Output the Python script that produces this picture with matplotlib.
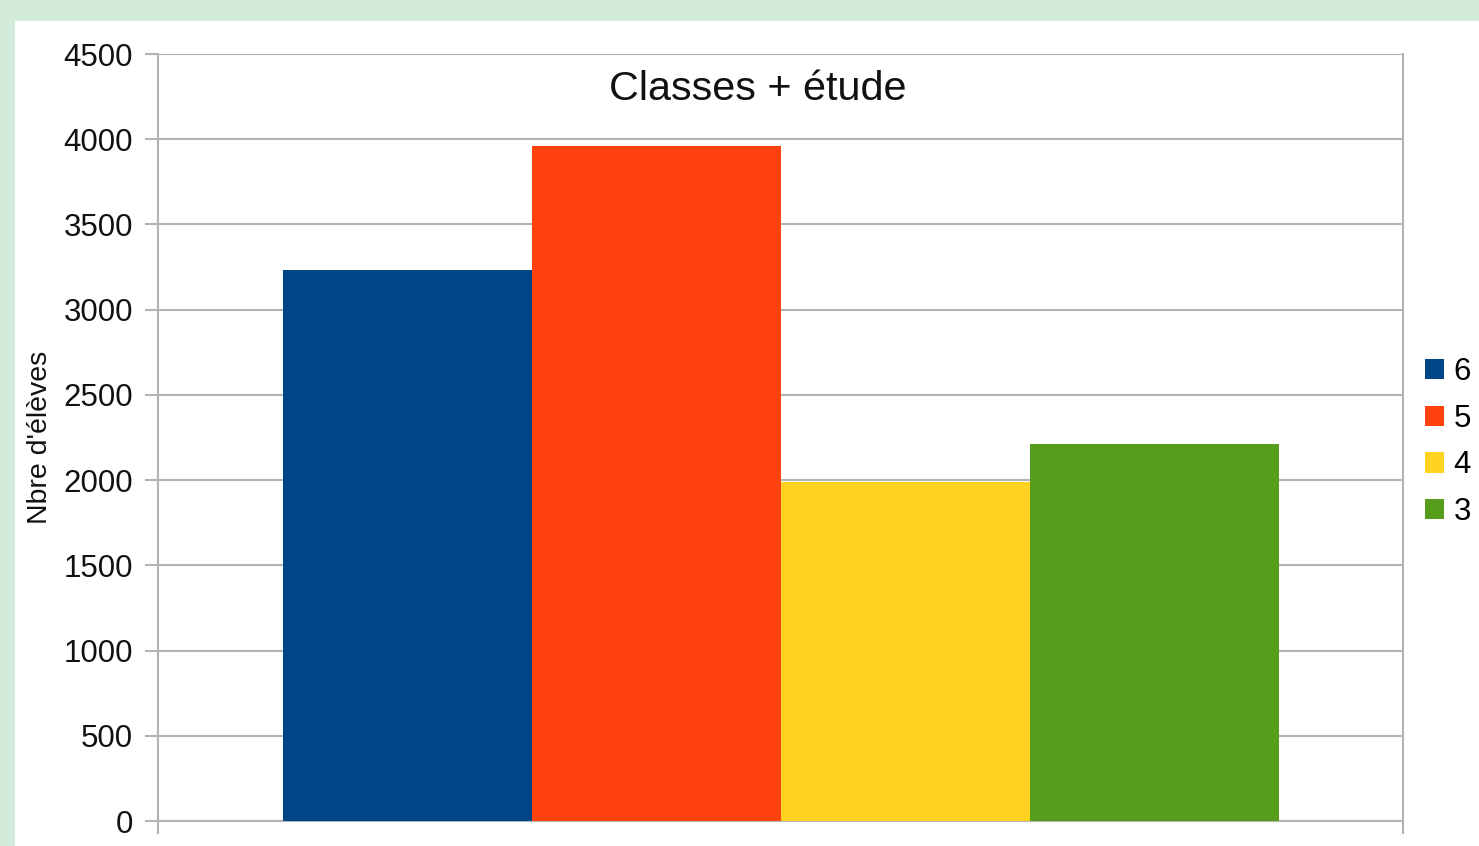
import matplotlib.pyplot as plt
from matplotlib.patches import Rectangle

# Données
niveaux = ['6', '5', '4', '3']
eleves = [3235, 3960, 1990, 2212]
couleurs = ['#004586', '#ff420e', '#ffd320', '#579d1c']
graduations = [0, 500, 1000, 1500, 2000, 2500, 3000, 3500, 4000, 4500]

plt.rcParams['font.family'] = ['Liberation Sans', 'DejaVu Sans']

W, H = 1479, 846
fig = plt.figure(figsize=(W / 100, H / 100), dpi=100)
fig.patch.set_facecolor('#d3eada')
# zone blanche (bord vert en haut et a gauche)
fig.patches.append(Rectangle((15 / W, 0), 1, 1 - 21 / H, transform=fig.transFigure,
                             facecolor='white', edgecolor='none', zorder=-10))

ax = fig.add_axes([158 / W, 25 / H, (1403 - 158) / W, (821 - 54) / H])
ax.set_facecolor('white')

gris = '#b3b3b3'
largeur = 0.2
n = len(niveaux)
for i, (niv, val, c) in enumerate(zip(niveaux, eleves, couleurs)):
    x = (i - (n - 1) / 2) * largeur
    ax.bar(x, val, width=largeur, color=c, label=niv, zorder=3)

ax.set_xlim(-0.5, 0.5)
ax.set_ylim(0, 4500)
ax.set_yticks(graduations)
ax.set_xticks([-0.5, 0.5])
ax.set_xticklabels([])
ax.grid(axis='y', color=gris, linewidth=1.5, zorder=0)

for s in ['left', 'right', 'bottom']:
    ax.spines[s].set_color(gris)
    ax.spines[s].set_linewidth(1.5)
ax.spines['top'].set_visible(False)

ax.tick_params(axis='y', length=9.4, width=1.5, color=gris, pad=8.6,
               labelsize=22.5, labelcolor='#111111')
ax.tick_params(axis='x', length=9.4, width=1.5, color=gris)

ax.set_ylabel("Nbre d'élèves", fontsize=20.5, color='#111111', labelpad=0)
ax.yaxis.set_label_coords((53 - 158) / (1403 - 158), 0.5)

fig.text(758 / W, 1 - 89 / H, 'Classes + étude', fontsize=29.8, ha='center',
         va='center', color='#111111')

ax.legend(loc='center left', bbox_to_anchor=((1425 - 158) / (1403 - 158), 0.494),
          frameon=False, fontsize=22.5, handlelength=0.62, handleheight=0.62,
          handletextpad=0.3, labelspacing=0.53, borderpad=0, borderaxespad=0)

fig.savefig('out.png', dpi=100, facecolor=fig.get_facecolor())
